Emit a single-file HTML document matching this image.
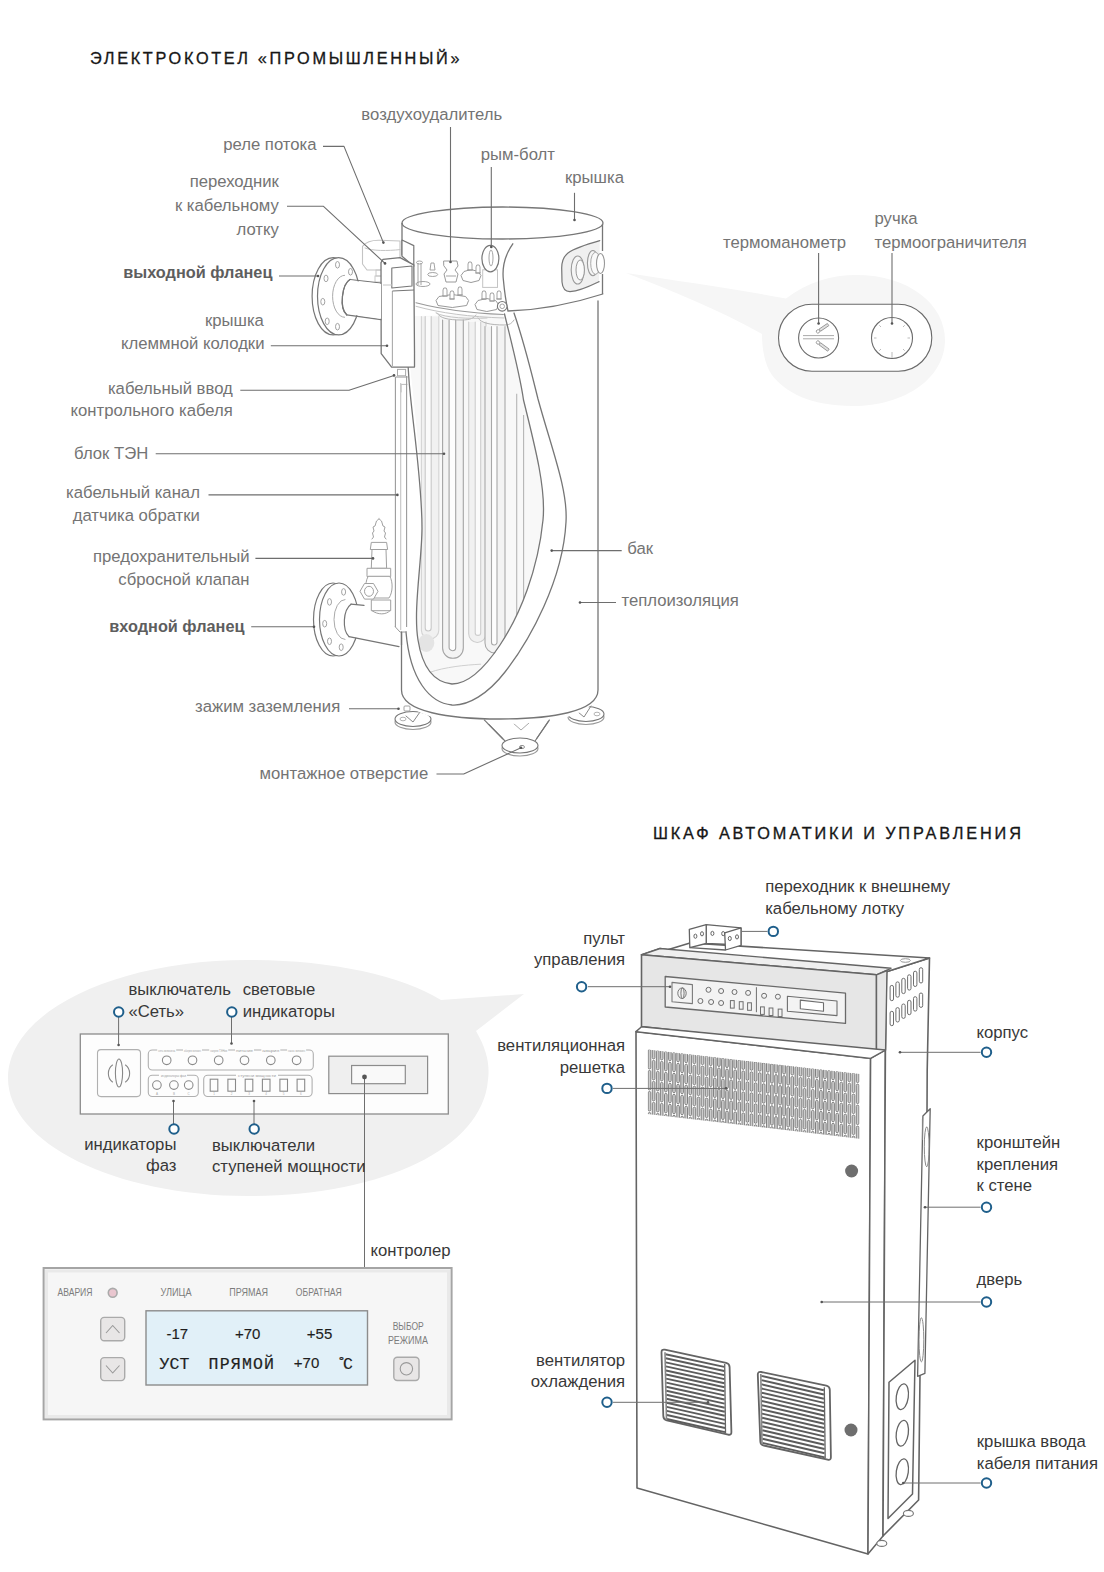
<!DOCTYPE html>
<html><head><meta charset="utf-8"><title>Электрокотел «Промышленный» и шкаф автоматики</title>
<style>
html,body{margin:0;padding:0;background:#fff;}
body{width:1104px;height:1572px;overflow:hidden;}
svg{display:block;}
text{font-family:"Liberation Sans",sans-serif;}
.lt{font-size:16.7px;fill:#747474;}
.lb{font-size:16.7px;fill:#383838;}
.bold{font-weight:bold;font-size:16.3px;fill:#5e5e5e;}
.title{font-size:16.3px;fill:#161616;stroke:#161616;stroke-width:0.3px;}
.sm{font-size:10px;fill:#7c7c7c;}
.lcd1{font-size:15px;fill:#1e1e1e;stroke:#1e1e1e;stroke-width:0.15px;}
.lcd2{font-family:"Liberation Mono",monospace;font-size:16.5px;fill:#1e1e1e;stroke:#1e1e1e;stroke-width:0.2px;}
</style></head>
<body><svg width="1104" height="1572" viewBox="0 0 1104 1572">
<text x="90" y="63.5" class="title" style="letter-spacing:2.66px">ЭЛЕКТРОКОТЕЛ «ПРОМЫШЛЕННЫЙ»</text>
<path d="M626,273 C680,281 740,290 786,298.5 C808,282 832,275 856,275 C910,275 945,305 945,340 C945,378 905,406 853,406 C810,406 785,392 772,375 C765,365 762,350 762,334 C720,310 670,290 626,273 Z" fill="#f6f6f6"/>
<ellipse cx="413" cy="722" rx="18" ry="7.5" stroke="#999" stroke-width="1.1" fill="#fff" />
<ellipse cx="413" cy="719" rx="18" ry="7.5" stroke="#767676" stroke-width="1.1" fill="#fff" />
<path d="M406,716 L413,722 L420,712" stroke="#888" stroke-width="1" fill="none" stroke-linejoin="round" stroke-linecap="round" />
<ellipse cx="403" cy="719" rx="3" ry="1.8" stroke="#aaa" stroke-width="0.9" fill="none" />
<ellipse cx="586" cy="717" rx="18" ry="7.5" stroke="#999" stroke-width="1.1" fill="#fff" />
<ellipse cx="586" cy="714" rx="18" ry="7.5" stroke="#767676" stroke-width="1.1" fill="#fff" />
<path d="M578,712 L584,717 L591,706" stroke="#888" stroke-width="1" fill="none" stroke-linejoin="round" stroke-linecap="round" />
<ellipse cx="597" cy="714" rx="3" ry="1.8" stroke="#aaa" stroke-width="0.9" fill="none" />
<path d="M484,719.6 L508,744 L533,744 L549.6,719.6 C530,722 500,722 484,719.6 Z" fill="#fff"/>
<path d="M484,719.6 L508,744" stroke="#767676" stroke-width="1.1" fill="none" stroke-linejoin="round" stroke-linecap="round" />
<path d="M549.6,719.6 L533,744" stroke="#767676" stroke-width="1.1" fill="none" stroke-linejoin="round" stroke-linecap="round" />
<ellipse cx="520" cy="748.5" rx="18" ry="7.5" stroke="#999" stroke-width="1.1" fill="#fff" />
<ellipse cx="520" cy="745.5" rx="18" ry="7.5" stroke="#767676" stroke-width="1.1" fill="#fff" />
<path d="M513,723 L521,730 L529,723" stroke="#aaa" stroke-width="1" fill="none" stroke-linejoin="round" stroke-linecap="round" />
<ellipse cx="522" cy="747" rx="2.5" ry="1.6" stroke="#888" stroke-width="0.9" fill="none" />
<path d="M401.5,300 L401.5,690 C401.5,716 450,724 500,724 C550,724 598,716 598,690 L598,300 Z" fill="#fff"/>
<defs><clipPath id="tk"><path d="M405,316 C408,360 424,470 422,528 C420,570 413,610 418,640 C424,672 440,684 452,684 C468,684 485,672 500,645 C520,615 538,570 543,520 C546,490 536,450 524,400 C520,375 512,345 503,314 Z"/></clipPath></defs>
<g clip-path="url(#tk)">
<path d="M405,316 C408,360 424,470 422,528 C420,570 413,610 418,640 C424,672 440,684 452,684 C468,684 485,672 500,645 C520,615 538,570 543,520 C546,490 536,450 524,400 C520,375 512,345 503,314 Z" fill="#f8f8f8"/>
<path d="M421.4,316.5 L421.4,630.3 A8.700000000000017,8.700000000000017 0 0 0 438.8,630.3 L438.8,316.5" stroke="#d4d4d4" stroke-width="1.1" fill="#f1f1f1" stroke-linejoin="round" stroke-linecap="round" />
<path d="M425.2,316.5 L425.2,628.0 A3.0,3.0 0 0 0 431.2,628.0 L431.2,316.5" stroke="#c8c8c8" stroke-width="1.1" fill="#fbfbfb" stroke-linejoin="round" stroke-linecap="round" />
<path d="M442.6,320 L442.6,647.9499999999999 A10.349999999999994,10.349999999999994 0 0 0 463.3,647.9499999999999 L463.3,320" stroke="#a3a3a3" stroke-width="1.1" fill="#f3f3f3" stroke-linejoin="round" stroke-linecap="round" />
<path d="M449.1,320 L449.1,647.4000000000001 A3.299999999999983,3.299999999999983 0 0 0 455.7,647.4000000000001 L455.7,320" stroke="#a3a3a3" stroke-width="1.1" fill="#fdfdfd" stroke-linejoin="round" stroke-linecap="round" />
<path d="M468.7,322 L468.7,633.85 A8.650000000000006,8.650000000000006 0 0 0 486,633.85 L486,322" stroke="#cdcdcd" stroke-width="1.1" fill="#f1f1f1" stroke-linejoin="round" stroke-linecap="round" />
<path d="M475.2,322 L475.2,632.65 A2.75,2.75 0 0 0 480.7,632.65 L480.7,322" stroke="#cdcdcd" stroke-width="1.1" fill="#fbfbfb" stroke-linejoin="round" stroke-linecap="round" />
<path d="M485,326.6 L485,643.0 A10.0,10.0 0 0 0 505,643.0 L505,326.6" stroke="#a8a8a8" stroke-width="1.1" fill="#f3f3f3" stroke-linejoin="round" stroke-linecap="round" />
<path d="M491.5,326.6 L491.5,642.25 A2.75,2.75 0 0 0 497,642.25 L497,326.6" stroke="#a8a8a8" stroke-width="1.1" fill="#fdfdfd" stroke-linejoin="round" stroke-linecap="round" />
<line x1="516.7" y1="393.8" x2="516.7" y2="640" stroke="#b5b5b5" stroke-width="1.1" />
<line x1="523.6" y1="415" x2="523.6" y2="640" stroke="#b5b5b5" stroke-width="1.1" />
<ellipse cx="426.3" cy="643" rx="8" ry="9" stroke="none" stroke-width="0" fill="#e4e4e4" />
<path d="M429.6,672.4 C445,667 465,665 480.7,664.2" stroke="#cfcfcf" stroke-width="1" fill="none" stroke-linejoin="round" stroke-linecap="round" />
</g>
<path d="M437,313 C440,318 447,320 462,320 C470,320 474,318 476,315" stroke="#b5b5b5" stroke-width="1" fill="none" stroke-linejoin="round" stroke-linecap="round" />
<path d="M478,318 C481,323 490,325 505,325 C510,325 512,323 514,320" stroke="#b5b5b5" stroke-width="1" fill="none" stroke-linejoin="round" stroke-linecap="round" />
<path d="M401.5,632 L401.5,690 C401.5,712 450,719 500,719 C550,719 598,712 598,690 L598,301" stroke="#767676" stroke-width="1.3" fill="none" stroke-linejoin="round" stroke-linecap="round" />
<rect x="404" y="706" width="6" height="5" rx="1" stroke="#999" stroke-width="0.9" fill="none" />
<line x1="484" y1="719.6" x2="503" y2="739" stroke="#767676" stroke-width="1.1" />
<line x1="549.6" y1="719.6" x2="536.4" y2="739" stroke="#767676" stroke-width="1.1" />
<path d="M514,313 C525,345 532,375 538,399 C552,450 568,490 566,522 C563,580 530,640 505,672 C488,694 468,706 452,705 C430,703 410,680 406,632" stroke="#767676" stroke-width="1.3" fill="none" stroke-linejoin="round" stroke-linecap="round" />
<path d="M504.5,314 C512,345 520,375 523.5,400 C536,450 546,490 543,520 C538,570 520,615 500,645 C482,672 466,684 452,684 C432,682 422,665 418,640 C413,610 422,560 422,528 C422,480 412,420 409,380 C407,350 406,330 406,318" stroke="#767676" stroke-width="1.3" fill="none" stroke-linejoin="round" stroke-linecap="round" />
<ellipse cx="502.5" cy="223" rx="100.5" ry="16" stroke="#777" stroke-width="1.3" fill="#fff"/>
<line x1="402" y1="223" x2="402" y2="255.6" stroke="#767676" stroke-width="1.3" />
<path d="M512.8,243.8 C505,255 502,268 503.4,280 C504.5,292 506,302 508,311 C540,310 575,303 602.8,294 L602.8,239 C575,242 545,243 512.8,243.8 Z" stroke="none" stroke-width="0" fill="#fff" stroke-linejoin="round" stroke-linecap="round" />
<path d="M512.8,243.8 C505,255 502,268 503.4,280 C504.5,292 506,302 508,311 C540,310 575,303 602.8,294" stroke="#767676" stroke-width="1.3" fill="none" stroke-linejoin="round" stroke-linecap="round" />
<path d="M599.8,240.7 C588,244 575,248 568,253 C563,257 561.7,262 561.7,268 L562,282 C562.5,288 565,291.5 570,291.7 C580,291 590,286 599,281.6" stroke="#767676" stroke-width="1.2" fill="#f0f0f0" stroke-linejoin="round" stroke-linecap="round" />
<ellipse cx="577.7" cy="270" rx="6.5" ry="14" stroke="#999" stroke-width="1.1" fill="#f5f5f5" />
<ellipse cx="580.2" cy="270" rx="4.2" ry="10" stroke="#999" stroke-width="1" fill="#fafafa" />
<ellipse cx="592.9" cy="263.1" rx="5.5" ry="12.6" stroke="#999" stroke-width="1.1" fill="#f5f5f5" />
<ellipse cx="595.5" cy="263.3" rx="4.8" ry="11" stroke="#aaa" stroke-width="1" fill="#fafafa" />
<ellipse cx="600.5" cy="263.5" rx="4" ry="10" stroke="#999" stroke-width="1.1" fill="#fff" />
<line x1="602.5" y1="224" x2="602.5" y2="251" stroke="#767676" stroke-width="1.3" />
<line x1="602.5" y1="274" x2="602.5" y2="294" stroke="#767676" stroke-width="1.3" />
<polygon points="402,240 413.8,245.6 413.8,266.2 402,256.2" stroke="#767676" stroke-width="1.2" fill="#fff" stroke-linejoin="round" />
<path d="M416,302.7 C440,309 470,313 503.4,314.5" stroke="#9a9a9a" stroke-width="1.1" fill="none" stroke-linejoin="round" stroke-linecap="round" />
<path d="M416,306.3 C440,313 470,317 504,318" stroke="#c4c4c4" stroke-width="1" fill="none" stroke-linejoin="round" stroke-linecap="round" />
<path d="M436,313 C445,318 470,319 487,318" stroke="#c4c4c4" stroke-width="1" fill="none" stroke-linejoin="round" stroke-linecap="round" />
<polygon points="436,300.5 439,296.5 452.3,294.5 465.6,296.5 468.6,300.5 466.6,305.5 452.3,307.5 438,305.5" stroke="#9a9a9a" stroke-width="1" fill="#fff" stroke-linejoin="round" />
<polygon points="443,296 443,290 443.8,288 446.2,288 447,290 447,296" stroke="#9a9a9a" stroke-width="0.9" fill="#fff" stroke-linejoin="round" />
<line x1="442.2" y1="296" x2="447.8" y2="296" stroke="#9a9a9a" stroke-width="1" />
<polygon points="450,299 450,293 450.8,291 453.2,291 454,293 454,299" stroke="#9a9a9a" stroke-width="0.9" fill="#fff" stroke-linejoin="round" />
<line x1="449.2" y1="299" x2="454.8" y2="299" stroke="#9a9a9a" stroke-width="1" />
<polygon points="458,295 458,289 458.8,287 461.2,287 462,289 462,295" stroke="#9a9a9a" stroke-width="0.9" fill="#fff" stroke-linejoin="round" />
<line x1="457.2" y1="295" x2="462.8" y2="295" stroke="#9a9a9a" stroke-width="1" />
<polygon points="475,304.5 478,300.5 486.8,298.5 495.6,300.5 498.6,304.5 496.6,309.5 486.8,311.5 477,309.5" stroke="#9a9a9a" stroke-width="1" fill="#fff" stroke-linejoin="round" />
<polygon points="482,299 482,293 482.8,291 485.2,291 486,293 486,299" stroke="#9a9a9a" stroke-width="0.9" fill="#fff" stroke-linejoin="round" />
<line x1="481.2" y1="299" x2="486.8" y2="299" stroke="#9a9a9a" stroke-width="1" />
<polygon points="490,301 490,295 490.8,293 493.2,293 494,295 494,301" stroke="#9a9a9a" stroke-width="0.9" fill="#fff" stroke-linejoin="round" />
<line x1="489.2" y1="301" x2="494.8" y2="301" stroke="#9a9a9a" stroke-width="1" />
<polygon points="497,299 497,293 497.8,291 500.2,291 501,293 501,299" stroke="#9a9a9a" stroke-width="0.9" fill="#fff" stroke-linejoin="round" />
<line x1="496.2" y1="299" x2="501.8" y2="299" stroke="#9a9a9a" stroke-width="1" />
<polygon points="461,275.5 464,271.5 471,269.5 478,271.5 481,275.5 479,280.5 471,282.5 463,280.5" stroke="#9a9a9a" stroke-width="1" fill="#fff" stroke-linejoin="round" />
<polygon points="468,270 468,264 468.8,262 471.2,262 472,264 472,270" stroke="#9a9a9a" stroke-width="0.9" fill="#fff" stroke-linejoin="round" />
<line x1="467.2" y1="270" x2="472.8" y2="270" stroke="#9a9a9a" stroke-width="1" />
<polygon points="476,273 476,267 476.8,265 479.2,265 480,267 480,273" stroke="#9a9a9a" stroke-width="0.9" fill="#fff" stroke-linejoin="round" />
<line x1="475.2" y1="273" x2="480.8" y2="273" stroke="#9a9a9a" stroke-width="1" />
<path d="M444,261 L457,261 L458,266 L455,270 L458,274 L456,282 L446,282 L444,274 L447,270 L444,266 Z" stroke="#9a9a9a" stroke-width="1" fill="#fff" stroke-linejoin="round" stroke-linecap="round" />
<line x1="446" y1="276" x2="456" y2="276" stroke="#9a9a9a" stroke-width="0.9" />
<polygon points="431,263 434,263 435,270 430,270" stroke="#9a9a9a" stroke-width="0.9" fill="#fff" stroke-linejoin="round" />
<ellipse cx="432.7" cy="274.5" rx="5" ry="2" stroke="#9a9a9a" stroke-width="0.9" fill="none" />
<line x1="418" y1="263" x2="418" y2="285" stroke="#9a9a9a" stroke-width="0.9" />
<line x1="421" y1="263" x2="421" y2="285" stroke="#9a9a9a" stroke-width="0.9" />
<ellipse cx="419.5" cy="262.5" rx="3" ry="1.5" stroke="#9a9a9a" stroke-width="0.9" fill="none" />
<ellipse cx="423" cy="284" rx="7" ry="2.5" stroke="#9a9a9a" stroke-width="0.9" fill="none" />
<rect x="482.7" y="269.8" width="14.8" height="17.6" rx="0" stroke="#c4c4c4" stroke-width="1" fill="#fff" />
<ellipse cx="490.4" cy="258.6" rx="8.5" ry="13.2" stroke="#767676" stroke-width="1.2" fill="#fff" />
<ellipse cx="491" cy="258" rx="2" ry="8" stroke="#9a9a9a" stroke-width="0.9" fill="none" />
<circle cx="502.2" cy="306.3" r="4.8" stroke="#767676" stroke-width="1.1" fill="#fff"/>
<circle cx="502.2" cy="306.3" r="2.3" stroke="#9a9a9a" stroke-width="0.9" fill="none"/>
<path d="M362.5,246.3 C366,242 372,240 380,240.3 L400,241 L400,270 L367,270 L362.5,264 Z" stroke="#c4c4c4" stroke-width="1.1" fill="#fff" stroke-linejoin="round" stroke-linecap="round" />
<path d="M365,248 C372,251 388,251 400,249.6" stroke="#c4c4c4" stroke-width="1" fill="none" stroke-linejoin="round" stroke-linecap="round" />
<rect x="376" y="270" width="8" height="6" rx="0" stroke="#c4c4c4" stroke-width="0.9" fill="none" />
<rect x="375" y="276" width="10" height="6" rx="0" stroke="#c4c4c4" stroke-width="0.9" fill="none" />
<polygon points="381,262.6 383,259.3 400,257.7 413.8,264.8 414.5,351 414.5,367 391.6,367.2 381.2,353.6" stroke="#767676" stroke-width="1.3" fill="#fff" stroke-linejoin="round" />
<line x1="392.4" y1="291" x2="392.4" y2="366" stroke="#aaa" stroke-width="1.1" />
<polygon points="391.8,268 412,266 412,286 391.8,288" stroke="#767676" stroke-width="1.1" fill="#fff" stroke-linejoin="round" />
<line x1="392.4" y1="291" x2="414" y2="290" stroke="#767676" stroke-width="1.0" />
<rect x="397.5" y="369.4" width="8.1" height="6.4" rx="0" stroke="#aaa" stroke-width="1" fill="#fff" />
<line x1="395.5" y1="377" x2="407.6" y2="377" stroke="#bbb" stroke-width="1.6" />
<path d="M401.1,392 L401.1,384.4 L407,384.4" stroke="#bbb" stroke-width="1" fill="none" stroke-linejoin="round" stroke-linecap="round" />
<line x1="395.4" y1="377" x2="395.4" y2="627" stroke="#9a9a9a" stroke-width="1.1" />
<line x1="400.7" y1="383" x2="400.7" y2="630" stroke="#c4c4c4" stroke-width="1.1" />
<line x1="406.6" y1="376" x2="406.6" y2="627" stroke="#9a9a9a" stroke-width="1.1" />
<path d="M395.4,627 L400,632 L406.6,632" stroke="#9a9a9a" stroke-width="1" fill="none" stroke-linejoin="round" stroke-linecap="round" />
<line x1="401.5" y1="632" x2="401.5" y2="645" stroke="#767676" stroke-width="1.3" />
<ellipse cx="333.2" cy="296.3" rx="21.1" ry="38.6" stroke="#767676" stroke-width="1.2" fill="#fff" />
<ellipse cx="338.6" cy="296.3" rx="21.1" ry="38.6" stroke="#767676" stroke-width="1.2" fill="#fff" />
<path d="M344.6,275.3 A12,21 0 0 0 344.6,317.3" stroke="#aaa" stroke-width="1.0" fill="none" stroke-linejoin="round" stroke-linecap="round" />
<ellipse cx="337.5" cy="264.8" rx="2" ry="3.3" stroke="#999" stroke-width="0.9" fill="none" />
<ellipse cx="350.5" cy="271.8" rx="2" ry="3.3" stroke="#999" stroke-width="0.9" fill="none" />
<ellipse cx="326" cy="278.4" rx="2" ry="3.3" stroke="#999" stroke-width="0.9" fill="none" />
<ellipse cx="322.8" cy="301.7" rx="2" ry="3.3" stroke="#999" stroke-width="0.9" fill="none" />
<ellipse cx="327.2" cy="321.3" rx="2" ry="3.3" stroke="#999" stroke-width="0.9" fill="none" />
<ellipse cx="337.5" cy="326.7" rx="2" ry="3.3" stroke="#999" stroke-width="0.9" fill="none" />
<path d="M350,279.5 L381,283" stroke="#767676" stroke-width="1.2" fill="none" stroke-linejoin="round" stroke-linecap="round" />
<path d="M346.7,314.8 L381,319.7" stroke="#767676" stroke-width="1.2" fill="none" stroke-linejoin="round" stroke-linecap="round" />
<path d="M350,279.5 C342,284 339,308 346.7,314.8" stroke="#767676" stroke-width="1.2" fill="#fff" stroke-linejoin="round" stroke-linecap="round" />
<path d="M350,280.5 L381,284 L381,318.7 L347.5,313.8 C341,307 343,286 350,280.5 Z" fill="#fff"/>
<path d="M350,279.5 C342,284 339,308 346.7,314.8" stroke="#767676" stroke-width="1.2" fill="none" stroke-linejoin="round" stroke-linecap="round" />
<line x1="383" y1="285" x2="392" y2="285" stroke="#c4c4c4" stroke-width="1" />
<ellipse cx="333" cy="619.5" rx="19.5" ry="36.5" stroke="#767676" stroke-width="1.2" fill="#fff" />
<ellipse cx="339" cy="619.5" rx="19.5" ry="36.5" stroke="#767676" stroke-width="1.2" fill="#fff" />
<path d="M345,599.5 A11,20 0 0 0 345,639.5" stroke="#aaa" stroke-width="1.0" fill="none" stroke-linejoin="round" stroke-linecap="round" />
<ellipse cx="343.6" cy="591.9" rx="2" ry="3.3" stroke="#999" stroke-width="0.9" fill="none" />
<ellipse cx="329.5" cy="601.9" rx="2" ry="3.3" stroke="#999" stroke-width="0.9" fill="none" />
<ellipse cx="324.7" cy="623.7" rx="2" ry="3.3" stroke="#999" stroke-width="0.9" fill="none" />
<ellipse cx="329.5" cy="641.3" rx="2" ry="3.3" stroke="#999" stroke-width="0.9" fill="none" />
<ellipse cx="341.2" cy="647.2" rx="2" ry="3.3" stroke="#999" stroke-width="0.9" fill="none" />
<path d="M351,604.5 L372,605.4 L372,612 L398,645 L349,636.6 C343,630 343,610 351,604.5 Z" fill="#fff"/>
<path d="M351,604.2 L364,605.4" stroke="#767676" stroke-width="1.2" fill="none" stroke-linejoin="round" stroke-linecap="round" />
<path d="M349,636.6 L399,646.6" stroke="#767676" stroke-width="1.2" fill="none" stroke-linejoin="round" stroke-linecap="round" />
<path d="M351,604.2 C343,610 342,630 349,636.6" stroke="#767676" stroke-width="1.2" fill="none" stroke-linejoin="round" stroke-linecap="round" />
<path d="M379,518.8 L381.5,521 L383,526 L385,527 L384,531 L385.5,533 L384.5,537 L386,539" stroke="#a0a0a0" stroke-width="1" fill="none" stroke-linejoin="round" stroke-linecap="round" />
<path d="M379,518.8 L376.5,521 L375,526 L373,527 L374,531 L372.5,533 L373.5,537 L372,539" stroke="#a0a0a0" stroke-width="1" fill="none" stroke-linejoin="round" stroke-linecap="round" />
<polygon points="371.3,542.4 386.6,542.4 387.6,549.5 370.3,549.5" stroke="#a0a0a0" stroke-width="1" fill="#fff" stroke-linejoin="round" />
<polygon points="372,549.5 386,549.5 386.6,568.3 371.3,568.3" stroke="#a0a0a0" stroke-width="1" fill="#fff" stroke-linejoin="round" />
<polygon points="367,568.3 390.7,568.3 390.7,576.6 367,576.6" stroke="#a0a0a0" stroke-width="1" fill="#fff" stroke-linejoin="round" />
<path d="M368,576.6 C364,584 366,594 370,598 L389,598 C393,592 393,582 390,576.6 Z" stroke="#a0a0a0" stroke-width="1" fill="#fff" stroke-linejoin="round" stroke-linecap="round" />
<polygon points="360,591.3 364.5,583.5 373.5,583.5 378,591.3 373.5,599.1 364.5,599.1" stroke="#a0a0a0" stroke-width="1" fill="#fff" stroke-linejoin="round" />
<ellipse cx="369" cy="591.3" rx="4.5" ry="5" stroke="#a0a0a0" stroke-width="1" fill="none" />
<polygon points="371.3,600 390.7,600 390.7,610.7 371.3,610.7" stroke="#a0a0a0" stroke-width="1" fill="#fff" stroke-linejoin="round" />
<path d="M372,610.7 C378,615 386,615 390,610.7" stroke="#a0a0a0" stroke-width="1" fill="none" stroke-linejoin="round" stroke-linecap="round" />
<rect x="778.5" y="304.2" width="153.3" height="67.1" rx="33.5" stroke="#6a6a6a" stroke-width="1.1" fill="#fff"/>
<circle cx="818.6" cy="338" r="20" stroke="#6a6a6a" stroke-width="1.1" fill="#fff"/>
<circle cx="892" cy="338" r="20.5" stroke="#6a6a6a" stroke-width="1.1" fill="#fff"/>
<line x1="803" y1="335.6" x2="834" y2="335.6" stroke="#aaa" stroke-width="1" />
<line x1="803" y1="338.8" x2="834" y2="338.8" stroke="#aaa" stroke-width="1" />
<g transform="translate(818,331.4) rotate(-34.1)"><circle cx="0" cy="0" r="1.7" stroke="#999" stroke-width="0.9" fill="none"/><rect x="2.2" y="-1.3" width="10.0" height="2.6" stroke="#999" stroke-width="0.9" fill="#e0e0e0"/></g>
<g transform="translate(818,342.5) rotate(36.3)"><circle cx="0" cy="0" r="1.7" stroke="#999" stroke-width="0.9" fill="none"/><rect x="2.2" y="-1.3" width="10.7" height="2.6" stroke="#999" stroke-width="0.9" fill="#e0e0e0"/></g>
<line x1="907.5" y1="338" x2="910" y2="338" stroke="#bbb" stroke-width="1" />
<line x1="903" y1="349" x2="904.7" y2="350.7" stroke="#bbb" stroke-width="1" />
<line x1="881" y1="349" x2="879.3" y2="350.7" stroke="#bbb" stroke-width="1" />
<line x1="876.5" y1="338" x2="874" y2="338" stroke="#bbb" stroke-width="1" />
<line x1="881" y1="327" x2="879.3" y2="325.3" stroke="#bbb" stroke-width="1" />
<line x1="903" y1="327" x2="904.7" y2="325.3" stroke="#bbb" stroke-width="1" />
<line x1="892" y1="352" x2="892" y2="358" stroke="#bbb" stroke-width="1" />
<polyline points="323,146.4 344,146.4 383.4,242.6" stroke="#6e6e6e" stroke-width="1.1" fill="none" stroke-linejoin="round" />
<polyline points="287,206.3 323.5,206.3 385,263.4" stroke="#6e6e6e" stroke-width="1.1" fill="none" stroke-linejoin="round" />
<line x1="279" y1="276" x2="318" y2="276" stroke="#6e6e6e" stroke-width="1.1" />
<line x1="270.8" y1="345.8" x2="387" y2="345.8" stroke="#6e6e6e" stroke-width="1.1" />
<polyline points="240.3,390.3 349,390.3 394,375.4" stroke="#6e6e6e" stroke-width="1.1" fill="none" stroke-linejoin="round" />
<line x1="155.7" y1="453.8" x2="444" y2="453.8" stroke="#6e6e6e" stroke-width="1.1" />
<line x1="208.5" y1="494.9" x2="397.4" y2="494.9" stroke="#6e6e6e" stroke-width="1.1" />
<line x1="255.4" y1="558.4" x2="373" y2="558.4" stroke="#6e6e6e" stroke-width="1.1" />
<line x1="251.2" y1="626.8" x2="314" y2="626.8" stroke="#6e6e6e" stroke-width="1.1" />
<line x1="349" y1="708.7" x2="398.5" y2="708.7" stroke="#6e6e6e" stroke-width="1.1" />
<polyline points="436.5,774 463.7,774 521,747.8" stroke="#6e6e6e" stroke-width="1.1" fill="none" stroke-linejoin="round" />
<line x1="450.5" y1="127" x2="450.5" y2="262" stroke="#6e6e6e" stroke-width="1.1" />
<line x1="491.3" y1="167" x2="491.3" y2="247" stroke="#6e6e6e" stroke-width="1.1" />
<line x1="574.5" y1="192.8" x2="574.5" y2="220" stroke="#6e6e6e" stroke-width="1.1" />
<line x1="551.7" y1="550.6" x2="621.7" y2="550.6" stroke="#6e6e6e" stroke-width="1.1" />
<line x1="580" y1="602.5" x2="616" y2="602.5" stroke="#6e6e6e" stroke-width="1.1" />
<line x1="818.6" y1="253" x2="818.6" y2="323.5" stroke="#6e6e6e" stroke-width="1.1" />
<line x1="892" y1="253" x2="892" y2="323.5" stroke="#6e6e6e" stroke-width="1.1" />
<circle cx="383.4" cy="242.6" r="1.3" fill="#555"/>
<circle cx="385" cy="263.4" r="1.3" fill="#555"/>
<circle cx="318" cy="276" r="1.3" fill="#555"/>
<circle cx="387" cy="345.8" r="1.3" fill="#555"/>
<circle cx="394" cy="375.4" r="1.3" fill="#555"/>
<circle cx="444" cy="453.8" r="1.3" fill="#555"/>
<circle cx="397.4" cy="494.9" r="1.3" fill="#555"/>
<circle cx="373" cy="558.4" r="1.3" fill="#555"/>
<circle cx="314" cy="626.8" r="1.3" fill="#555"/>
<circle cx="398.5" cy="708.7" r="1.3" fill="#555"/>
<circle cx="521" cy="747.8" r="1.3" fill="#555"/>
<circle cx="450.5" cy="262" r="1.3" fill="#555"/>
<circle cx="491.3" cy="247" r="1.3" fill="#555"/>
<circle cx="574.5" cy="220" r="1.3" fill="#555"/>
<circle cx="551.7" cy="550.6" r="1.3" fill="#555"/>
<circle cx="580" cy="602.5" r="1.3" fill="#555"/>
<circle cx="818.6" cy="323.5" r="1.3" fill="#555"/>
<circle cx="892" cy="323.5" r="1.3" fill="#555"/>
<text x="431.8" y="120" class="lt" text-anchor="middle">воздухоудалитель</text>
<text x="316.5" y="150" class="lt" text-anchor="end">реле потока</text>
<text x="480.8" y="159.7" class="lt" text-anchor="start">рым-болт</text>
<text x="565" y="183.3" class="lt" text-anchor="start">крышка</text>
<text x="278.8" y="187.2" class="lt" text-anchor="end">переходник</text>
<text x="278.8" y="211" class="lt" text-anchor="end">к кабельному</text>
<text x="278.8" y="234.6" class="lt" text-anchor="end">лотку</text>
<text x="272.4" y="278" class="lt bold" text-anchor="end">выходной фланец</text>
<text x="263.9" y="325.9" class="lt" text-anchor="end">крышка</text>
<text x="264.5" y="348.8" class="lt" text-anchor="end">клеммной колодки</text>
<text x="232.8" y="393.7" class="lt" text-anchor="end">кабельный ввод</text>
<text x="232.8" y="416.2" class="lt" text-anchor="end">контрольного кабеля</text>
<text x="148.3" y="458.8" class="lt" text-anchor="end">блок ТЭН</text>
<text x="199.9" y="497.7" class="lt" text-anchor="end">кабельный канал</text>
<text x="199.9" y="521.2" class="lt" text-anchor="end">датчика обратки</text>
<text x="249.6" y="562" class="lt" text-anchor="end">предохранительный</text>
<text x="249.6" y="585.4" class="lt" text-anchor="end">сбросной клапан</text>
<text x="244.5" y="632" class="lt bold" text-anchor="end">входной фланец</text>
<text x="340.2" y="712" class="lt" text-anchor="end">зажим заземления</text>
<text x="428.2" y="778.5" class="lt" text-anchor="end">монтажное отверстие</text>
<text x="627.3" y="553.5" class="lt" text-anchor="start">бак</text>
<text x="621.5" y="605.7" class="lt" text-anchor="start">теплоизоляция</text>
<text x="723" y="247.7" class="lt" text-anchor="start">термоманометр</text>
<text x="874.5" y="224" class="lt" text-anchor="start">ручка</text>
<text x="874.5" y="247.7" class="lt" text-anchor="start">термоограничителя</text>
<text x="653" y="839" class="title" style="letter-spacing:2.85px">ШКАФ АВТОМАТИКИ И УПРАВЛЕНИЯ</text>
<path d="M524,994 L476,1031 C487,1050 490,1065 488,1080 C482,1150 380,1196 248,1196 C115,1196 8,1143 8,1078 C8,1012 115,960 248,960 C330,960 400,975 441,1000 Z" fill="#f0f0f0"/>
<rect x="80.3" y="1034" width="368" height="80" rx="0" stroke="#8c8c8c" stroke-width="1.3" fill="#fdfdfd" />
<rect x="97.5" y="1049.6" width="43" height="47" rx="3.5" stroke="#b0b0b0" stroke-width="1.1" fill="#fdfdfd" />
<ellipse cx="119" cy="1073" rx="3.6" ry="14" stroke="#888" stroke-width="1.1" fill="none" />
<path d="M112.5,1065 C107,1069 107,1078 112.5,1082" stroke="#888" stroke-width="1.1" fill="none" stroke-linejoin="round" stroke-linecap="round" />
<path d="M125.5,1065 C131,1069 131,1078 125.5,1082" stroke="#888" stroke-width="1.1" fill="none" stroke-linejoin="round" stroke-linecap="round" />
<rect x="148.3" y="1050" width="165" height="20" rx="4" stroke="#b0b0b0" stroke-width="1.1" fill="#fdfdfd" />
<rect x="157.2" y="1048.5" width="19" height="3" fill="#fdfdfd"/>
<text x="166.7" y="1051.6" font-size="3.3" fill="#a0a0a0" text-anchor="middle" textLength="17" lengthAdjust="spacingAndGlyphs">сеть включена</text>
<circle cx="166.7" cy="1060.3" r="4.3" stroke="#8a8a8a" stroke-width="1.1" fill="#fdfdfd"/>
<rect x="183.0" y="1048.5" width="19" height="3" fill="#fdfdfd"/>
<text x="192.5" y="1051.6" font-size="3.3" fill="#a0a0a0" text-anchor="middle" textLength="17" lengthAdjust="spacingAndGlyphs">обогрев включен</text>
<circle cx="192.5" cy="1060.3" r="4.3" stroke="#8a8a8a" stroke-width="1.1" fill="#fdfdfd"/>
<rect x="209.2" y="1048.5" width="19" height="3" fill="#fdfdfd"/>
<text x="218.7" y="1051.6" font-size="3.3" fill="#a0a0a0" text-anchor="middle" textLength="17" lengthAdjust="spacingAndGlyphs">нагрев ТЭНов</text>
<circle cx="218.7" cy="1060.3" r="4.3" stroke="#8a8a8a" stroke-width="1.1" fill="#fdfdfd"/>
<rect x="235.0" y="1048.5" width="19" height="3" fill="#fdfdfd"/>
<text x="244.5" y="1051.6" font-size="3.3" fill="#a0a0a0" text-anchor="middle" textLength="17" lengthAdjust="spacingAndGlyphs">питание</text>
<circle cx="244.5" cy="1060.3" r="4.3" stroke="#8a8a8a" stroke-width="1.1" fill="#fdfdfd"/>
<rect x="261.3" y="1048.5" width="19" height="3" fill="#fdfdfd"/>
<text x="270.8" y="1051.6" font-size="3.3" fill="#a0a0a0" text-anchor="middle" textLength="17" lengthAdjust="spacingAndGlyphs">авария</text>
<circle cx="270.8" cy="1060.3" r="4.3" stroke="#8a8a8a" stroke-width="1.1" fill="#fdfdfd"/>
<rect x="287.1" y="1048.5" width="19" height="3" fill="#fdfdfd"/>
<text x="296.6" y="1051.6" font-size="3.3" fill="#a0a0a0" text-anchor="middle" textLength="17" lengthAdjust="spacingAndGlyphs">насос включен</text>
<circle cx="296.6" cy="1060.3" r="4.3" stroke="#8a8a8a" stroke-width="1.1" fill="#fdfdfd"/>
<rect x="148.3" y="1075.3" width="50" height="21.2" rx="4" stroke="#b0b0b0" stroke-width="1.1" fill="#fdfdfd" />
<rect x="159" y="1073.8" width="28" height="3" fill="#fdfdfd"/>
<text x="173.5" y="1077" font-size="3.3" fill="#a0a0a0" text-anchor="middle" textLength="25" lengthAdjust="spacingAndGlyphs">индикаторы фаз</text>
<circle cx="156.9" cy="1085.1" r="4.3" stroke="#8a8a8a" stroke-width="1.1" fill="#fdfdfd"/>
<text x="156.9" y="1095.3" font-size="3" fill="#aaa" text-anchor="middle">A</text>
<circle cx="173.9" cy="1085.1" r="4.3" stroke="#8a8a8a" stroke-width="1.1" fill="#fdfdfd"/>
<text x="173.9" y="1095.3" font-size="3" fill="#aaa" text-anchor="middle">B</text>
<circle cx="188.7" cy="1085.1" r="4.3" stroke="#8a8a8a" stroke-width="1.1" fill="#fdfdfd"/>
<text x="188.7" y="1095.3" font-size="3" fill="#aaa" text-anchor="middle">C</text>
<rect x="203.7" y="1075.3" width="108.4" height="21.2" rx="4" stroke="#b0b0b0" stroke-width="1.1" fill="#fdfdfd" />
<rect x="236" y="1073.8" width="42" height="3" fill="#fdfdfd"/>
<text x="257" y="1077" font-size="3.3" fill="#a0a0a0" text-anchor="middle" textLength="38" lengthAdjust="spacingAndGlyphs">ступени мощности</text>
<rect x="210.2" y="1079.2" width="7.6" height="12" rx="0" stroke="#8a8a8a" stroke-width="1.1" fill="#fdfdfd" />
<text x="214" y="1095.3" font-size="3" fill="#aaa" text-anchor="middle">1</text>
<rect x="227.9" y="1079.2" width="7.6" height="12" rx="0" stroke="#8a8a8a" stroke-width="1.1" fill="#fdfdfd" />
<text x="231.7" y="1095.3" font-size="3" fill="#aaa" text-anchor="middle">2</text>
<rect x="245.2" y="1079.2" width="7.6" height="12" rx="0" stroke="#8a8a8a" stroke-width="1.1" fill="#fdfdfd" />
<text x="249" y="1095.3" font-size="3" fill="#aaa" text-anchor="middle">3</text>
<rect x="262.4" y="1079.2" width="7.6" height="12" rx="0" stroke="#8a8a8a" stroke-width="1.1" fill="#fdfdfd" />
<text x="266.2" y="1095.3" font-size="3" fill="#aaa" text-anchor="middle">4</text>
<rect x="279.9" y="1079.2" width="7.6" height="12" rx="0" stroke="#8a8a8a" stroke-width="1.1" fill="#fdfdfd" />
<text x="283.7" y="1095.3" font-size="3" fill="#aaa" text-anchor="middle">5</text>
<rect x="297.1" y="1079.2" width="7.6" height="12" rx="0" stroke="#8a8a8a" stroke-width="1.1" fill="#fdfdfd" />
<text x="300.9" y="1095.3" font-size="3" fill="#aaa" text-anchor="middle">6</text>
<rect x="328.8" y="1056.2" width="98.8" height="37.4" rx="0" stroke="#8c8c8c" stroke-width="1.2" fill="#efefef" />
<rect x="351.6" y="1065.5" width="53.7" height="18.2" rx="0" stroke="#8c8c8c" stroke-width="1.2" fill="#f9f9f9" />
<line x1="118.6" y1="1017" x2="118.6" y2="1045" stroke="#6e6e6e" stroke-width="1" />
<line x1="231.5" y1="1017" x2="231.5" y2="1043.5" stroke="#6e6e6e" stroke-width="1" />
<line x1="173.5" y1="1101" x2="173.5" y2="1124" stroke="#6e6e6e" stroke-width="1" />
<line x1="254" y1="1101" x2="254" y2="1124" stroke="#6e6e6e" stroke-width="1" />
<line x1="364.5" y1="1077" x2="364.5" y2="1279" stroke="#6e6e6e" stroke-width="1" />
<circle cx="364.5" cy="1077" r="2.4" stroke="none" stroke-width="0" fill="#555"/>
<circle cx="364.5" cy="1279" r="1.3" fill="#555"/>
<circle cx="118.6" cy="1045" r="1.3" fill="#555"/>
<circle cx="231.5" cy="1043.5" r="1.3" fill="#555"/>
<circle cx="173.5" cy="1101" r="1.3" fill="#555"/>
<circle cx="254" cy="1101" r="1.3" fill="#555"/>
<circle cx="118.7" cy="1012" r="4.7" stroke="#1f5f8b" stroke-width="2" fill="#fff"/>
<circle cx="231.8" cy="1012" r="4.7" stroke="#1f5f8b" stroke-width="2" fill="#fff"/>
<circle cx="174" cy="1129" r="4.7" stroke="#1f5f8b" stroke-width="2" fill="#fff"/>
<circle cx="254.2" cy="1129" r="4.7" stroke="#1f5f8b" stroke-width="2" fill="#fff"/>
<text x="128.4" y="994.8" class="lb" text-anchor="start">выключатель</text>
<text x="128.4" y="1016.7" class="lb" text-anchor="start">«Сеть»</text>
<text x="242.7" y="994.8" class="lb" text-anchor="start">световые</text>
<text x="242.7" y="1016.5" class="lb" text-anchor="start">индикаторы</text>
<text x="176.4" y="1150" class="lb" text-anchor="end">индикаторы</text>
<text x="176.4" y="1171" class="lb" text-anchor="end">фаз</text>
<text x="212" y="1150.5" class="lb" text-anchor="start">выключатели</text>
<text x="212" y="1171.9" class="lb" text-anchor="start">ступеней мощности</text>
<text x="370.5" y="1256" class="lb" text-anchor="start">контролер</text>
<rect x="43.6" y="1268" width="408" height="151.4" rx="0" stroke="#a5a5a5" stroke-width="2" fill="#f6f6f6" />
<rect x="46.5" y="1271" width="402" height="145.5" rx="0" stroke="#e9e9e9" stroke-width="3" fill="none" />
<text x="57.5" y="1296.2" class="sm" textLength="35" lengthAdjust="spacingAndGlyphs">АВАРИЯ</text>
<text x="160.5" y="1296" class="sm" textLength="31" lengthAdjust="spacingAndGlyphs">УЛИЦА</text>
<text x="229.3" y="1296" class="sm" textLength="38.7" lengthAdjust="spacingAndGlyphs">ПРЯМАЯ</text>
<text x="295.8" y="1296" class="sm" textLength="46" lengthAdjust="spacingAndGlyphs">ОБРАТНАЯ</text>
<text x="392.7" y="1330" class="sm" textLength="31" lengthAdjust="spacingAndGlyphs">ВЫБОР</text>
<text x="387.9" y="1343.6" class="sm" textLength="40" lengthAdjust="spacingAndGlyphs">РЕЖИМА</text>
<circle cx="112.7" cy="1292.8" r="4.4" stroke="#aaa" stroke-width="1.6" fill="#e9c6cf"/>
<rect x="100.7" y="1317.4" width="24" height="23.3" rx="3.5" stroke="#aaa" stroke-width="1.4" fill="#e8e6e6" />
<polyline points="106,1333 112.7,1325.5 119.5,1333" stroke="#999" stroke-width="1.1" fill="none" stroke-linejoin="round" />
<rect x="100.7" y="1357.6" width="24" height="23" rx="3.5" stroke="#aaa" stroke-width="1.4" fill="#e8e6e6" />
<polyline points="106,1365.5 112.7,1373 119.5,1365.5" stroke="#999" stroke-width="1.1" fill="none" stroke-linejoin="round" />
<rect x="146" y="1310.8" width="221.5" height="74.2" rx="0" stroke="#8c8c8c" stroke-width="1.4" fill="#e1f0f8" />
<rect x="393.8" y="1357.2" width="25.2" height="23.3" rx="3.5" stroke="#aaa" stroke-width="1.4" fill="#e8e6e6" />
<circle cx="406.4" cy="1368.8" r="6.2" stroke="#999" stroke-width="1.1" fill="none"/>
<text x="166.5" y="1338.7" class="lcd1">-17</text>
<text x="235" y="1338.7" class="lcd1">+70</text>
<text x="306.8" y="1338.6" class="lcd1">+55</text>
<text x="159.5" y="1369" class="lcd2" textLength="30" lengthAdjust="spacing">УСТ</text>
<text x="208.6" y="1369" class="lcd2" textLength="65.4" lengthAdjust="spacing">ПРЯМОЙ</text>
<text x="293.8" y="1367.5" class="lcd1">+70</text>
<text x="336.5" y="1369" class="lcd2">˚</text>
<text x="343" y="1369" class="lcd2">C</text>
<polygon points="636,1031.6 870.6,1058.4 868,1554 637,1488" stroke="#646464" stroke-width="1.6" fill="#fff" stroke-linejoin="round" />
<polygon points="870.6,1058.4 885.4,1050 883,1536 868,1554" stroke="#646464" stroke-width="1.5" fill="#fff" stroke-linejoin="round" />
<polygon points="886.5,971.8 929.5,958 927.2,1070 926.4,1240 920,1375 918.6,1500 883,1536 885.4,1050" stroke="#646464" stroke-width="1.6" fill="#fff" stroke-linejoin="round" />
<polygon points="641.5,954.8 660,948.5 667.7,949.7 690,943 929.5,958 886.5,971.8 876.5,974.8" stroke="#646464" stroke-width="1.6" fill="#fff" stroke-linejoin="round" />
<polygon points="641.5,954.8 660,948.5 891,968.3 876.5,974.8" stroke="#646464" stroke-width="1.4" fill="#efefef" stroke-linejoin="round" />
<polygon points="641.5,954.8 876.5,974.8 876.5,1052.5 641.5,1026.6" stroke="#646464" stroke-width="1.6" fill="#e6e6e6" stroke-linejoin="round" />
<polygon points="876.5,974.8 887,970.5 885.6,1050 876.5,1052.5" stroke="#646464" stroke-width="1.4" fill="#e6e6e6" stroke-linejoin="round" />
<polygon points="636,1031.6 641.5,1026.8 885.4,1050 870.6,1058.4" stroke="#646464" stroke-width="1.4" fill="#fff" stroke-linejoin="round" />
<ellipse cx="905.4" cy="960.5" rx="5" ry="1.8" stroke="#999" stroke-width="1" fill="none" />
<polygon points="665.2,976.5 845.5,993.2 845.5,1023.4 665.2,1007" stroke="#6a6a6a" stroke-width="1.3" fill="#f3f3f3" stroke-linejoin="round" />
<polygon points="672,982.4 692.4,984.6 692.4,1003.6 672,1001.8" stroke="#7a7a7a" stroke-width="1.1" fill="#f3f3f3" stroke-linejoin="round" />
<ellipse cx="682" cy="993.2" rx="4.2" ry="5.2" stroke="#777" stroke-width="1" fill="none" />
<ellipse cx="682.5" cy="993.2" rx="1.6" ry="5.6" stroke="#777" stroke-width="1" fill="none" />
<circle cx="708.5" cy="989.8" r="2.5" stroke="#6e6e6e" stroke-width="1" fill="none"/>
<circle cx="721.1" cy="991" r="2.5" stroke="#6e6e6e" stroke-width="1" fill="none"/>
<circle cx="734.5" cy="992" r="2.5" stroke="#6e6e6e" stroke-width="1" fill="none"/>
<circle cx="748.1" cy="992.9" r="2.5" stroke="#6e6e6e" stroke-width="1" fill="none"/>
<circle cx="764.1" cy="995.8" r="2.5" stroke="#6e6e6e" stroke-width="1" fill="none"/>
<circle cx="777.9" cy="996.7" r="2.5" stroke="#6e6e6e" stroke-width="1" fill="none"/>
<circle cx="700.4" cy="1001" r="2.5" stroke="#6e6e6e" stroke-width="1" fill="none"/>
<circle cx="711.1" cy="1002" r="2.5" stroke="#6e6e6e" stroke-width="1" fill="none"/>
<circle cx="721.1" cy="1003" r="2.5" stroke="#6e6e6e" stroke-width="1" fill="none"/>
<rect x="730.4" y="1000.6" width="3.8" height="7.5" rx="0" stroke="#6e6e6e" stroke-width="1" fill="none" />
<rect x="739.3" y="1001.7" width="3.8" height="7.5" rx="0" stroke="#6e6e6e" stroke-width="1" fill="none" />
<rect x="747.6" y="1002.8" width="3.8" height="7.5" rx="0" stroke="#6e6e6e" stroke-width="1" fill="none" />
<rect x="760.5" y="1006.9" width="3.8" height="7.5" rx="0" stroke="#6e6e6e" stroke-width="1" fill="none" />
<rect x="769.1" y="1008" width="3.8" height="7.5" rx="0" stroke="#6e6e6e" stroke-width="1" fill="none" />
<rect x="778.2" y="1009.1" width="3.8" height="7.5" rx="0" stroke="#6e6e6e" stroke-width="1" fill="none" />
<line x1="756.4" y1="987.2" x2="756.4" y2="1012.2" stroke="#6e6e6e" stroke-width="1" />
<polygon points="787.4,996.2 837,1001 837,1015.6 787.4,1011.3" stroke="#6e6e6e" stroke-width="1.1" fill="#f3f3f3" stroke-linejoin="round" />
<polygon points="800.3,1000.1 823.5,1002.7 823.5,1011.3 800.3,1008.7" stroke="#6e6e6e" stroke-width="1.1" fill="#fff" stroke-linejoin="round" />
<rect x="890.1" y="985.4" width="3.4" height="15.3" rx="1.7" stroke="#6e6e6e" stroke-width="1" fill="none" />
<rect x="890.1" y="1011.3" width="3.4" height="14.4" rx="1.7" stroke="#6e6e6e" stroke-width="1" fill="none" />
<rect x="895.9" y="981.9" width="3.4" height="15.3" rx="1.7" stroke="#6e6e6e" stroke-width="1" fill="none" />
<rect x="895.9" y="1007.6" width="3.4" height="14.4" rx="1.7" stroke="#6e6e6e" stroke-width="1" fill="none" />
<rect x="901.8" y="978.3" width="3.4" height="15.3" rx="1.7" stroke="#6e6e6e" stroke-width="1" fill="none" />
<rect x="901.8" y="1004" width="3.4" height="14.4" rx="1.7" stroke="#6e6e6e" stroke-width="1" fill="none" />
<rect x="907.6" y="974.8" width="3.4" height="15.3" rx="1.7" stroke="#6e6e6e" stroke-width="1" fill="none" />
<rect x="907.6" y="1000.3" width="3.4" height="14.4" rx="1.7" stroke="#6e6e6e" stroke-width="1" fill="none" />
<rect x="913.5" y="971.2" width="3.4" height="15.3" rx="1.7" stroke="#6e6e6e" stroke-width="1" fill="none" />
<rect x="913.5" y="996.7" width="3.4" height="14.4" rx="1.7" stroke="#6e6e6e" stroke-width="1" fill="none" />
<rect x="919.3" y="967.7" width="3.4" height="15.3" rx="1.7" stroke="#6e6e6e" stroke-width="1" fill="none" />
<rect x="919.3" y="993" width="3.4" height="14.4" rx="1.7" stroke="#6e6e6e" stroke-width="1" fill="none" />
<polygon points="706.2,924.6 741,927.9 741,945 706.2,943.5" stroke="#646464" stroke-width="1.3" fill="#fff" stroke-linejoin="round" />
<polygon points="689.3,929.3 706.2,924.6 706.2,943.5 689.8,947.7" stroke="#646464" stroke-width="1.3" fill="#fff" stroke-linejoin="round" />
<polygon points="724.7,932.8 741,927.9 741,945.4 725.5,950" stroke="#646464" stroke-width="1.3" fill="#fff" stroke-linejoin="round" />
<line x1="689.8" y1="947.7" x2="725.5" y2="950" stroke="#646464" stroke-width="1.3" />
<ellipse cx="695.4" cy="936.2" rx="1.5" ry="2.1" stroke="#646464" stroke-width="1" fill="none" />
<ellipse cx="702" cy="933.8" rx="1.5" ry="2.1" stroke="#646464" stroke-width="1" fill="none" />
<ellipse cx="712.4" cy="933.4" rx="1.5" ry="2.1" stroke="#646464" stroke-width="1" fill="none" />
<ellipse cx="723.2" cy="933.6" rx="1.5" ry="2.1" stroke="#646464" stroke-width="1" fill="none" />
<ellipse cx="729.8" cy="938.5" rx="1.5" ry="2.1" stroke="#646464" stroke-width="1" fill="none" />
<ellipse cx="737" cy="936.9" rx="1.5" ry="2.1" stroke="#646464" stroke-width="1" fill="none" />
<defs><clipPath id="gc"><polygon points="647.7,1049.4 859.6,1074 859.6,1138.7 647.7,1114"/></clipPath></defs>
<g clip-path="url(#gc)" stroke="#7c7c7c" stroke-width="0.95" fill="#cdcdcd">
<rect x="648.2" y="1028.5" width="2.6" height="19.5" rx="1.3"/>
<rect x="648.2" y="1049.5" width="2.6" height="19.5" rx="1.3"/>
<rect x="648.2" y="1070.5" width="2.6" height="19.5" rx="1.3"/>
<rect x="648.2" y="1091.5" width="2.6" height="19.5" rx="1.3"/>
<rect x="648.2" y="1112.5" width="2.6" height="19.5" rx="1.3"/>
<rect x="652.3" y="1039.4" width="2.6" height="19.5" rx="1.3"/>
<rect x="652.3" y="1060.4" width="2.6" height="19.5" rx="1.3"/>
<rect x="652.3" y="1081.4" width="2.6" height="19.5" rx="1.3"/>
<rect x="652.3" y="1102.4" width="2.6" height="19.5" rx="1.3"/>
<rect x="656.4" y="1029.4" width="2.6" height="19.5" rx="1.3"/>
<rect x="656.4" y="1050.4" width="2.6" height="19.5" rx="1.3"/>
<rect x="656.4" y="1071.4" width="2.6" height="19.5" rx="1.3"/>
<rect x="656.4" y="1092.4" width="2.6" height="19.5" rx="1.3"/>
<rect x="656.4" y="1113.4" width="2.6" height="19.5" rx="1.3"/>
<rect x="660.4" y="1040.4" width="2.6" height="19.5" rx="1.3"/>
<rect x="660.4" y="1061.4" width="2.6" height="19.5" rx="1.3"/>
<rect x="660.4" y="1082.4" width="2.6" height="19.5" rx="1.3"/>
<rect x="660.4" y="1103.4" width="2.6" height="19.5" rx="1.3"/>
<rect x="664.5" y="1030.4" width="2.6" height="19.5" rx="1.3"/>
<rect x="664.5" y="1051.4" width="2.6" height="19.5" rx="1.3"/>
<rect x="664.5" y="1072.4" width="2.6" height="19.5" rx="1.3"/>
<rect x="664.5" y="1093.4" width="2.6" height="19.5" rx="1.3"/>
<rect x="664.5" y="1114.4" width="2.6" height="19.5" rx="1.3"/>
<rect x="668.6" y="1041.3" width="2.6" height="19.5" rx="1.3"/>
<rect x="668.6" y="1062.3" width="2.6" height="19.5" rx="1.3"/>
<rect x="668.6" y="1083.3" width="2.6" height="19.5" rx="1.3"/>
<rect x="668.6" y="1104.3" width="2.6" height="19.5" rx="1.3"/>
<rect x="672.7" y="1031.3" width="2.6" height="19.5" rx="1.3"/>
<rect x="672.7" y="1052.3" width="2.6" height="19.5" rx="1.3"/>
<rect x="672.7" y="1073.3" width="2.6" height="19.5" rx="1.3"/>
<rect x="672.7" y="1094.3" width="2.6" height="19.5" rx="1.3"/>
<rect x="672.7" y="1115.3" width="2.6" height="19.5" rx="1.3"/>
<rect x="676.8" y="1042.3" width="2.6" height="19.5" rx="1.3"/>
<rect x="676.8" y="1063.3" width="2.6" height="19.5" rx="1.3"/>
<rect x="676.8" y="1084.3" width="2.6" height="19.5" rx="1.3"/>
<rect x="676.8" y="1105.3" width="2.6" height="19.5" rx="1.3"/>
<rect x="680.8" y="1032.2" width="2.6" height="19.5" rx="1.3"/>
<rect x="680.8" y="1053.2" width="2.6" height="19.5" rx="1.3"/>
<rect x="680.8" y="1074.2" width="2.6" height="19.5" rx="1.3"/>
<rect x="680.8" y="1095.2" width="2.6" height="19.5" rx="1.3"/>
<rect x="680.8" y="1116.2" width="2.6" height="19.5" rx="1.3"/>
<rect x="684.9" y="1043.2" width="2.6" height="19.5" rx="1.3"/>
<rect x="684.9" y="1064.2" width="2.6" height="19.5" rx="1.3"/>
<rect x="684.9" y="1085.2" width="2.6" height="19.5" rx="1.3"/>
<rect x="684.9" y="1106.2" width="2.6" height="19.5" rx="1.3"/>
<rect x="689.0" y="1033.2" width="2.6" height="19.5" rx="1.3"/>
<rect x="689.0" y="1054.2" width="2.6" height="19.5" rx="1.3"/>
<rect x="689.0" y="1075.2" width="2.6" height="19.5" rx="1.3"/>
<rect x="689.0" y="1096.2" width="2.6" height="19.5" rx="1.3"/>
<rect x="689.0" y="1117.2" width="2.6" height="19.5" rx="1.3"/>
<rect x="693.1" y="1044.2" width="2.6" height="19.5" rx="1.3"/>
<rect x="693.1" y="1065.2" width="2.6" height="19.5" rx="1.3"/>
<rect x="693.1" y="1086.2" width="2.6" height="19.5" rx="1.3"/>
<rect x="693.1" y="1107.2" width="2.6" height="19.5" rx="1.3"/>
<rect x="697.2" y="1034.1" width="2.6" height="19.5" rx="1.3"/>
<rect x="697.2" y="1055.1" width="2.6" height="19.5" rx="1.3"/>
<rect x="697.2" y="1076.1" width="2.6" height="19.5" rx="1.3"/>
<rect x="697.2" y="1097.1" width="2.6" height="19.5" rx="1.3"/>
<rect x="697.2" y="1118.1" width="2.6" height="19.5" rx="1.3"/>
<rect x="701.2" y="1045.1" width="2.6" height="19.5" rx="1.3"/>
<rect x="701.2" y="1066.1" width="2.6" height="19.5" rx="1.3"/>
<rect x="701.2" y="1087.1" width="2.6" height="19.5" rx="1.3"/>
<rect x="701.2" y="1108.1" width="2.6" height="19.5" rx="1.3"/>
<rect x="705.3" y="1035.1" width="2.6" height="19.5" rx="1.3"/>
<rect x="705.3" y="1056.1" width="2.6" height="19.5" rx="1.3"/>
<rect x="705.3" y="1077.1" width="2.6" height="19.5" rx="1.3"/>
<rect x="705.3" y="1098.1" width="2.6" height="19.5" rx="1.3"/>
<rect x="705.3" y="1119.1" width="2.6" height="19.5" rx="1.3"/>
<rect x="709.4" y="1046.1" width="2.6" height="19.5" rx="1.3"/>
<rect x="709.4" y="1067.1" width="2.6" height="19.5" rx="1.3"/>
<rect x="709.4" y="1088.1" width="2.6" height="19.5" rx="1.3"/>
<rect x="709.4" y="1109.1" width="2.6" height="19.5" rx="1.3"/>
<rect x="713.5" y="1036.0" width="2.6" height="19.5" rx="1.3"/>
<rect x="713.5" y="1057.0" width="2.6" height="19.5" rx="1.3"/>
<rect x="713.5" y="1078.0" width="2.6" height="19.5" rx="1.3"/>
<rect x="713.5" y="1099.0" width="2.6" height="19.5" rx="1.3"/>
<rect x="713.5" y="1120.0" width="2.6" height="19.5" rx="1.3"/>
<rect x="717.6" y="1047.0" width="2.6" height="19.5" rx="1.3"/>
<rect x="717.6" y="1068.0" width="2.6" height="19.5" rx="1.3"/>
<rect x="717.6" y="1089.0" width="2.6" height="19.5" rx="1.3"/>
<rect x="717.6" y="1110.0" width="2.6" height="19.5" rx="1.3"/>
<rect x="721.6" y="1037.0" width="2.6" height="19.5" rx="1.3"/>
<rect x="721.6" y="1058.0" width="2.6" height="19.5" rx="1.3"/>
<rect x="721.6" y="1079.0" width="2.6" height="19.5" rx="1.3"/>
<rect x="721.6" y="1100.0" width="2.6" height="19.5" rx="1.3"/>
<rect x="721.6" y="1121.0" width="2.6" height="19.5" rx="1.3"/>
<rect x="725.7" y="1048.0" width="2.6" height="19.5" rx="1.3"/>
<rect x="725.7" y="1069.0" width="2.6" height="19.5" rx="1.3"/>
<rect x="725.7" y="1090.0" width="2.6" height="19.5" rx="1.3"/>
<rect x="725.7" y="1111.0" width="2.6" height="19.5" rx="1.3"/>
<rect x="729.8" y="1037.9" width="2.6" height="19.5" rx="1.3"/>
<rect x="729.8" y="1058.9" width="2.6" height="19.5" rx="1.3"/>
<rect x="729.8" y="1079.9" width="2.6" height="19.5" rx="1.3"/>
<rect x="729.8" y="1100.9" width="2.6" height="19.5" rx="1.3"/>
<rect x="729.8" y="1121.9" width="2.6" height="19.5" rx="1.3"/>
<rect x="733.9" y="1048.9" width="2.6" height="19.5" rx="1.3"/>
<rect x="733.9" y="1069.9" width="2.6" height="19.5" rx="1.3"/>
<rect x="733.9" y="1090.9" width="2.6" height="19.5" rx="1.3"/>
<rect x="733.9" y="1111.9" width="2.6" height="19.5" rx="1.3"/>
<rect x="738.0" y="1038.9" width="2.6" height="19.5" rx="1.3"/>
<rect x="738.0" y="1059.9" width="2.6" height="19.5" rx="1.3"/>
<rect x="738.0" y="1080.9" width="2.6" height="19.5" rx="1.3"/>
<rect x="738.0" y="1101.9" width="2.6" height="19.5" rx="1.3"/>
<rect x="738.0" y="1122.9" width="2.6" height="19.5" rx="1.3"/>
<rect x="742.0" y="1049.9" width="2.6" height="19.5" rx="1.3"/>
<rect x="742.0" y="1070.9" width="2.6" height="19.5" rx="1.3"/>
<rect x="742.0" y="1091.9" width="2.6" height="19.5" rx="1.3"/>
<rect x="742.0" y="1112.9" width="2.6" height="19.5" rx="1.3"/>
<rect x="746.1" y="1039.8" width="2.6" height="19.5" rx="1.3"/>
<rect x="746.1" y="1060.8" width="2.6" height="19.5" rx="1.3"/>
<rect x="746.1" y="1081.8" width="2.6" height="19.5" rx="1.3"/>
<rect x="746.1" y="1102.8" width="2.6" height="19.5" rx="1.3"/>
<rect x="746.1" y="1123.8" width="2.6" height="19.5" rx="1.3"/>
<rect x="750.2" y="1050.8" width="2.6" height="19.5" rx="1.3"/>
<rect x="750.2" y="1071.8" width="2.6" height="19.5" rx="1.3"/>
<rect x="750.2" y="1092.8" width="2.6" height="19.5" rx="1.3"/>
<rect x="750.2" y="1113.8" width="2.6" height="19.5" rx="1.3"/>
<rect x="754.3" y="1040.8" width="2.6" height="19.5" rx="1.3"/>
<rect x="754.3" y="1061.8" width="2.6" height="19.5" rx="1.3"/>
<rect x="754.3" y="1082.8" width="2.6" height="19.5" rx="1.3"/>
<rect x="754.3" y="1103.8" width="2.6" height="19.5" rx="1.3"/>
<rect x="754.3" y="1124.8" width="2.6" height="19.5" rx="1.3"/>
<rect x="758.4" y="1051.7" width="2.6" height="19.5" rx="1.3"/>
<rect x="758.4" y="1072.7" width="2.6" height="19.5" rx="1.3"/>
<rect x="758.4" y="1093.7" width="2.6" height="19.5" rx="1.3"/>
<rect x="758.4" y="1114.7" width="2.6" height="19.5" rx="1.3"/>
<rect x="762.4" y="1041.7" width="2.6" height="19.5" rx="1.3"/>
<rect x="762.4" y="1062.7" width="2.6" height="19.5" rx="1.3"/>
<rect x="762.4" y="1083.7" width="2.6" height="19.5" rx="1.3"/>
<rect x="762.4" y="1104.7" width="2.6" height="19.5" rx="1.3"/>
<rect x="762.4" y="1125.7" width="2.6" height="19.5" rx="1.3"/>
<rect x="766.5" y="1052.7" width="2.6" height="19.5" rx="1.3"/>
<rect x="766.5" y="1073.7" width="2.6" height="19.5" rx="1.3"/>
<rect x="766.5" y="1094.7" width="2.6" height="19.5" rx="1.3"/>
<rect x="766.5" y="1115.7" width="2.6" height="19.5" rx="1.3"/>
<rect x="770.6" y="1042.7" width="2.6" height="19.5" rx="1.3"/>
<rect x="770.6" y="1063.7" width="2.6" height="19.5" rx="1.3"/>
<rect x="770.6" y="1084.7" width="2.6" height="19.5" rx="1.3"/>
<rect x="770.6" y="1105.7" width="2.6" height="19.5" rx="1.3"/>
<rect x="770.6" y="1126.7" width="2.6" height="19.5" rx="1.3"/>
<rect x="774.7" y="1053.6" width="2.6" height="19.5" rx="1.3"/>
<rect x="774.7" y="1074.6" width="2.6" height="19.5" rx="1.3"/>
<rect x="774.7" y="1095.6" width="2.6" height="19.5" rx="1.3"/>
<rect x="774.7" y="1116.6" width="2.6" height="19.5" rx="1.3"/>
<rect x="778.8" y="1043.6" width="2.6" height="19.5" rx="1.3"/>
<rect x="778.8" y="1064.6" width="2.6" height="19.5" rx="1.3"/>
<rect x="778.8" y="1085.6" width="2.6" height="19.5" rx="1.3"/>
<rect x="778.8" y="1106.6" width="2.6" height="19.5" rx="1.3"/>
<rect x="778.8" y="1127.6" width="2.6" height="19.5" rx="1.3"/>
<rect x="782.8" y="1054.6" width="2.6" height="19.5" rx="1.3"/>
<rect x="782.8" y="1075.6" width="2.6" height="19.5" rx="1.3"/>
<rect x="782.8" y="1096.6" width="2.6" height="19.5" rx="1.3"/>
<rect x="782.8" y="1117.6" width="2.6" height="19.5" rx="1.3"/>
<rect x="786.9" y="1044.6" width="2.6" height="19.5" rx="1.3"/>
<rect x="786.9" y="1065.6" width="2.6" height="19.5" rx="1.3"/>
<rect x="786.9" y="1086.6" width="2.6" height="19.5" rx="1.3"/>
<rect x="786.9" y="1107.6" width="2.6" height="19.5" rx="1.3"/>
<rect x="786.9" y="1128.6" width="2.6" height="19.5" rx="1.3"/>
<rect x="791.0" y="1055.5" width="2.6" height="19.5" rx="1.3"/>
<rect x="791.0" y="1076.5" width="2.6" height="19.5" rx="1.3"/>
<rect x="791.0" y="1097.5" width="2.6" height="19.5" rx="1.3"/>
<rect x="791.0" y="1118.5" width="2.6" height="19.5" rx="1.3"/>
<rect x="795.1" y="1045.5" width="2.6" height="19.5" rx="1.3"/>
<rect x="795.1" y="1066.5" width="2.6" height="19.5" rx="1.3"/>
<rect x="795.1" y="1087.5" width="2.6" height="19.5" rx="1.3"/>
<rect x="795.1" y="1108.5" width="2.6" height="19.5" rx="1.3"/>
<rect x="795.1" y="1129.5" width="2.6" height="19.5" rx="1.3"/>
<rect x="799.2" y="1056.5" width="2.6" height="19.5" rx="1.3"/>
<rect x="799.2" y="1077.5" width="2.6" height="19.5" rx="1.3"/>
<rect x="799.2" y="1098.5" width="2.6" height="19.5" rx="1.3"/>
<rect x="799.2" y="1119.5" width="2.6" height="19.5" rx="1.3"/>
<rect x="803.2" y="1046.5" width="2.6" height="19.5" rx="1.3"/>
<rect x="803.2" y="1067.5" width="2.6" height="19.5" rx="1.3"/>
<rect x="803.2" y="1088.5" width="2.6" height="19.5" rx="1.3"/>
<rect x="803.2" y="1109.5" width="2.6" height="19.5" rx="1.3"/>
<rect x="803.2" y="1130.5" width="2.6" height="19.5" rx="1.3"/>
<rect x="807.3" y="1057.4" width="2.6" height="19.5" rx="1.3"/>
<rect x="807.3" y="1078.4" width="2.6" height="19.5" rx="1.3"/>
<rect x="807.3" y="1099.4" width="2.6" height="19.5" rx="1.3"/>
<rect x="807.3" y="1120.4" width="2.6" height="19.5" rx="1.3"/>
<rect x="811.4" y="1047.4" width="2.6" height="19.5" rx="1.3"/>
<rect x="811.4" y="1068.4" width="2.6" height="19.5" rx="1.3"/>
<rect x="811.4" y="1089.4" width="2.6" height="19.5" rx="1.3"/>
<rect x="811.4" y="1110.4" width="2.6" height="19.5" rx="1.3"/>
<rect x="811.4" y="1131.4" width="2.6" height="19.5" rx="1.3"/>
<rect x="815.5" y="1058.4" width="2.6" height="19.5" rx="1.3"/>
<rect x="815.5" y="1079.4" width="2.6" height="19.5" rx="1.3"/>
<rect x="815.5" y="1100.4" width="2.6" height="19.5" rx="1.3"/>
<rect x="815.5" y="1121.4" width="2.6" height="19.5" rx="1.3"/>
<rect x="819.6" y="1048.4" width="2.6" height="19.5" rx="1.3"/>
<rect x="819.6" y="1069.4" width="2.6" height="19.5" rx="1.3"/>
<rect x="819.6" y="1090.4" width="2.6" height="19.5" rx="1.3"/>
<rect x="819.6" y="1111.4" width="2.6" height="19.5" rx="1.3"/>
<rect x="819.6" y="1132.4" width="2.6" height="19.5" rx="1.3"/>
<rect x="823.6" y="1059.3" width="2.6" height="19.5" rx="1.3"/>
<rect x="823.6" y="1080.3" width="2.6" height="19.5" rx="1.3"/>
<rect x="823.6" y="1101.3" width="2.6" height="19.5" rx="1.3"/>
<rect x="823.6" y="1122.3" width="2.6" height="19.5" rx="1.3"/>
<rect x="827.7" y="1049.3" width="2.6" height="19.5" rx="1.3"/>
<rect x="827.7" y="1070.3" width="2.6" height="19.5" rx="1.3"/>
<rect x="827.7" y="1091.3" width="2.6" height="19.5" rx="1.3"/>
<rect x="827.7" y="1112.3" width="2.6" height="19.5" rx="1.3"/>
<rect x="827.7" y="1133.3" width="2.6" height="19.5" rx="1.3"/>
<rect x="831.8" y="1060.3" width="2.6" height="19.5" rx="1.3"/>
<rect x="831.8" y="1081.3" width="2.6" height="19.5" rx="1.3"/>
<rect x="831.8" y="1102.3" width="2.6" height="19.5" rx="1.3"/>
<rect x="831.8" y="1123.3" width="2.6" height="19.5" rx="1.3"/>
<rect x="835.9" y="1050.2" width="2.6" height="19.5" rx="1.3"/>
<rect x="835.9" y="1071.2" width="2.6" height="19.5" rx="1.3"/>
<rect x="835.9" y="1092.2" width="2.6" height="19.5" rx="1.3"/>
<rect x="835.9" y="1113.2" width="2.6" height="19.5" rx="1.3"/>
<rect x="835.9" y="1134.2" width="2.6" height="19.5" rx="1.3"/>
<rect x="840.0" y="1061.2" width="2.6" height="19.5" rx="1.3"/>
<rect x="840.0" y="1082.2" width="2.6" height="19.5" rx="1.3"/>
<rect x="840.0" y="1103.2" width="2.6" height="19.5" rx="1.3"/>
<rect x="840.0" y="1124.2" width="2.6" height="19.5" rx="1.3"/>
<rect x="844.0" y="1051.2" width="2.6" height="19.5" rx="1.3"/>
<rect x="844.0" y="1072.2" width="2.6" height="19.5" rx="1.3"/>
<rect x="844.0" y="1093.2" width="2.6" height="19.5" rx="1.3"/>
<rect x="844.0" y="1114.2" width="2.6" height="19.5" rx="1.3"/>
<rect x="844.0" y="1135.2" width="2.6" height="19.5" rx="1.3"/>
<rect x="848.1" y="1062.2" width="2.6" height="19.5" rx="1.3"/>
<rect x="848.1" y="1083.2" width="2.6" height="19.5" rx="1.3"/>
<rect x="848.1" y="1104.2" width="2.6" height="19.5" rx="1.3"/>
<rect x="848.1" y="1125.2" width="2.6" height="19.5" rx="1.3"/>
<rect x="852.2" y="1052.1" width="2.6" height="19.5" rx="1.3"/>
<rect x="852.2" y="1073.1" width="2.6" height="19.5" rx="1.3"/>
<rect x="852.2" y="1094.1" width="2.6" height="19.5" rx="1.3"/>
<rect x="852.2" y="1115.1" width="2.6" height="19.5" rx="1.3"/>
<rect x="852.2" y="1136.1" width="2.6" height="19.5" rx="1.3"/>
<rect x="856.3" y="1063.1" width="2.6" height="19.5" rx="1.3"/>
<rect x="856.3" y="1084.1" width="2.6" height="19.5" rx="1.3"/>
<rect x="856.3" y="1105.1" width="2.6" height="19.5" rx="1.3"/>
<rect x="856.3" y="1126.1" width="2.6" height="19.5" rx="1.3"/>
</g>
<circle cx="851.6" cy="1171" r="6.5" stroke="none" stroke-width="0" fill="#6e6e6e"/>
<circle cx="851" cy="1430" r="6.5" stroke="none" stroke-width="0" fill="#6e6e6e"/>
<path d="M661.5,1352.5 Q661.4,1349.0 664.8,1349.7 L726.1,1362.9 Q729.5,1363.6 729.6,1367.1 L731.4,1431.9 Q731.5,1435.4 728.1,1434.6 L666.8,1420.3 Q663.4,1419.5 663.3,1416.0 Z" stroke="#646464" stroke-width="1.8" fill="#fff" stroke-linejoin="round" stroke-linecap="round" />
<line x1="665.5" y1="1354.3" x2="724.2" y2="1366.9" stroke="#5c5c5c" stroke-width="1.9" />
<line x1="665.6" y1="1358.3" x2="724.2" y2="1371" stroke="#5c5c5c" stroke-width="1.9" />
<line x1="665.7" y1="1362.4" x2="724.3" y2="1375.1" stroke="#5c5c5c" stroke-width="1.9" />
<line x1="665.8" y1="1366.4" x2="724.4" y2="1379.1" stroke="#5c5c5c" stroke-width="1.9" />
<line x1="665.9" y1="1370.5" x2="724.4" y2="1383.2" stroke="#5c5c5c" stroke-width="1.9" />
<line x1="666" y1="1374.5" x2="724.5" y2="1387.3" stroke="#5c5c5c" stroke-width="1.9" />
<line x1="666.1" y1="1378.6" x2="724.5" y2="1391.3" stroke="#5c5c5c" stroke-width="1.9" />
<line x1="666.2" y1="1382.6" x2="724.6" y2="1395.4" stroke="#5c5c5c" stroke-width="1.9" />
<line x1="666.2" y1="1386.7" x2="724.6" y2="1399.5" stroke="#5c5c5c" stroke-width="1.9" />
<line x1="666.3" y1="1390.7" x2="724.6" y2="1403.6" stroke="#5c5c5c" stroke-width="1.9" />
<line x1="666.4" y1="1394.7" x2="724.7" y2="1407.7" stroke="#5c5c5c" stroke-width="1.9" />
<line x1="666.5" y1="1398.8" x2="724.8" y2="1411.7" stroke="#5c5c5c" stroke-width="1.9" />
<line x1="666.6" y1="1402.8" x2="724.8" y2="1415.8" stroke="#5c5c5c" stroke-width="1.9" />
<line x1="666.7" y1="1406.9" x2="724.9" y2="1419.9" stroke="#5c5c5c" stroke-width="1.9" />
<line x1="666.8" y1="1410.9" x2="724.9" y2="1423.9" stroke="#5c5c5c" stroke-width="1.9" />
<line x1="666.9" y1="1415" x2="725" y2="1428" stroke="#5c5c5c" stroke-width="1.9" />
<line x1="667" y1="1419" x2="725" y2="1432.1" stroke="#5c5c5c" stroke-width="1.9" />
<line x1="724.7" y1="1363.9" x2="725.5" y2="1433.1" stroke="#646464" stroke-width="1.3" />
<line x1="665" y1="1352.3" x2="666.5" y2="1420" stroke="#888" stroke-width="1.6" />
<path d="M757.8,1374.8 Q757.7,1371.3 761.1,1372.0 L826.3,1385.6 Q829.7,1386.3 829.8,1389.8 L830.9,1457.0 Q831.0,1460.5 827.6,1459.7 L763.8,1445.5 Q760.4,1444.7 760.3,1441.2 Z" stroke="#646464" stroke-width="1.8" fill="#fff" stroke-linejoin="round" stroke-linecap="round" />
<line x1="761.3" y1="1375.9" x2="823.8" y2="1390.3" stroke="#5c5c5c" stroke-width="1.9" />
<line x1="761.4" y1="1380.1" x2="823.9" y2="1394.5" stroke="#5c5c5c" stroke-width="1.9" />
<line x1="761.4" y1="1384.3" x2="823.9" y2="1398.7" stroke="#5c5c5c" stroke-width="1.9" />
<line x1="761.5" y1="1388.5" x2="824" y2="1402.9" stroke="#5c5c5c" stroke-width="1.9" />
<line x1="761.6" y1="1392.7" x2="824" y2="1407.1" stroke="#5c5c5c" stroke-width="1.9" />
<line x1="761.7" y1="1396.8" x2="824.1" y2="1411.3" stroke="#5c5c5c" stroke-width="1.9" />
<line x1="761.8" y1="1401" x2="824.1" y2="1415.5" stroke="#5c5c5c" stroke-width="1.9" />
<line x1="761.8" y1="1405.2" x2="824.2" y2="1419.7" stroke="#5c5c5c" stroke-width="1.9" />
<line x1="761.9" y1="1409.4" x2="824.2" y2="1423.8" stroke="#5c5c5c" stroke-width="1.9" />
<line x1="762" y1="1413.6" x2="824.3" y2="1428" stroke="#5c5c5c" stroke-width="1.9" />
<line x1="762" y1="1417.8" x2="824.4" y2="1432.2" stroke="#5c5c5c" stroke-width="1.9" />
<line x1="762.1" y1="1422" x2="824.4" y2="1436.4" stroke="#5c5c5c" stroke-width="1.9" />
<line x1="762.2" y1="1426.2" x2="824.5" y2="1440.6" stroke="#5c5c5c" stroke-width="1.9" />
<line x1="762.3" y1="1430.3" x2="824.5" y2="1444.8" stroke="#5c5c5c" stroke-width="1.9" />
<line x1="762.4" y1="1434.5" x2="824.6" y2="1449" stroke="#5c5c5c" stroke-width="1.9" />
<line x1="762.4" y1="1438.7" x2="824.6" y2="1453.2" stroke="#5c5c5c" stroke-width="1.9" />
<line x1="762.5" y1="1442.9" x2="824.7" y2="1457.4" stroke="#5c5c5c" stroke-width="1.9" />
<line x1="824.3" y1="1387.3" x2="825.2" y2="1458.4" stroke="#646464" stroke-width="1.3" />
<line x1="760.8" y1="1373.9" x2="762" y2="1443.9" stroke="#888" stroke-width="1.6" />
<polygon points="889,1382.2 915,1360.3 912.5,1494 888,1518.5" stroke="#646464" stroke-width="1.5" fill="#fff" stroke-linejoin="round" />
<ellipse cx="902.3" cy="1396.8" rx="6" ry="13" stroke="#646464" stroke-width="1.3" fill="none" transform="rotate(8 902.3 1396.8)"/>
<ellipse cx="902.3" cy="1433.3" rx="6" ry="13" stroke="#646464" stroke-width="1.3" fill="none" transform="rotate(8 902.3 1433.3)"/>
<ellipse cx="902.3" cy="1471.8" rx="6" ry="13" stroke="#646464" stroke-width="1.3" fill="none" transform="rotate(8 902.3 1471.8)"/>
<polygon points="922.9,1116 930.2,1108.8 924.9,1373.4 917.6,1376.3" stroke="#646464" stroke-width="1.3" fill="#fff" stroke-linejoin="round" />
<ellipse cx="926.7" cy="1146.8" rx="2.4" ry="20" stroke="#888" stroke-width="1" fill="none" />
<ellipse cx="921.4" cy="1339.8" rx="2.4" ry="22" stroke="#888" stroke-width="1" fill="none" />
<line x1="922.4" y1="1119" x2="922.4" y2="1140" stroke="#888" stroke-width="1" />
<ellipse cx="881.8" cy="1543.4" rx="5" ry="3" stroke="#777" stroke-width="1.1" fill="#fff" />
<ellipse cx="908.4" cy="1513.4" rx="5" ry="3" stroke="#777" stroke-width="1.1" fill="#fff" />
<line x1="588" y1="986.7" x2="670" y2="986.7" stroke="#6e6e6e" stroke-width="1" />
<line x1="613" y1="1088.4" x2="726" y2="1088.4" stroke="#6e6e6e" stroke-width="1" />
<line x1="613" y1="1402.3" x2="708" y2="1402.3" stroke="#6e6e6e" stroke-width="1" />
<line x1="741.6" y1="931.4" x2="767.5" y2="931.4" stroke="#6e6e6e" stroke-width="1" />
<line x1="900" y1="1052.3" x2="980.5" y2="1052.3" stroke="#6e6e6e" stroke-width="1" />
<line x1="925" y1="1207.2" x2="980.5" y2="1207.2" stroke="#6e6e6e" stroke-width="1" />
<line x1="821.7" y1="1302" x2="980.5" y2="1302" stroke="#6e6e6e" stroke-width="1" />
<line x1="903.3" y1="1483" x2="980.5" y2="1483" stroke="#6e6e6e" stroke-width="1" />
<circle cx="670" cy="986.7" r="1.3" fill="#555"/>
<circle cx="726" cy="1088.4" r="1.3" fill="#555"/>
<circle cx="708" cy="1402.3" r="1.3" fill="#555"/>
<circle cx="900" cy="1052.3" r="1.3" fill="#555"/>
<circle cx="925" cy="1207.2" r="1.3" fill="#555"/>
<circle cx="821.7" cy="1302" r="1.3" fill="#555"/>
<circle cx="903.3" cy="1483" r="1.3" fill="#555"/>
<circle cx="581.6" cy="986.7" r="4.7" stroke="#1f5f8b" stroke-width="2" fill="#fff"/>
<circle cx="607" cy="1088.4" r="4.7" stroke="#1f5f8b" stroke-width="2" fill="#fff"/>
<circle cx="607" cy="1402.3" r="4.7" stroke="#1f5f8b" stroke-width="2" fill="#fff"/>
<circle cx="773.3" cy="931.4" r="4.7" stroke="#1f5f8b" stroke-width="2" fill="#fff"/>
<circle cx="986.5" cy="1052.3" r="4.7" stroke="#1f5f8b" stroke-width="2" fill="#fff"/>
<circle cx="986.5" cy="1207.2" r="4.7" stroke="#1f5f8b" stroke-width="2" fill="#fff"/>
<circle cx="986.5" cy="1302" r="4.7" stroke="#1f5f8b" stroke-width="2" fill="#fff"/>
<circle cx="986.5" cy="1483" r="4.7" stroke="#1f5f8b" stroke-width="2" fill="#fff"/>
<text x="765.2" y="891.8" class="lb" text-anchor="start">переходник к внешнему</text>
<text x="765.2" y="913.6" class="lb" text-anchor="start">кабельному лотку</text>
<text x="625" y="943.9" class="lb" text-anchor="end">пульт</text>
<text x="625" y="964.6" class="lb" text-anchor="end">управления</text>
<text x="976.5" y="1038.3" class="lb" text-anchor="start">корпус</text>
<text x="625" y="1051" class="lb" text-anchor="end">вентиляционная</text>
<text x="625" y="1072.5" class="lb" text-anchor="end">решетка</text>
<text x="976.6" y="1148.1" class="lb" text-anchor="start">кронштейн</text>
<text x="976.6" y="1169.5" class="lb" text-anchor="start">крепления</text>
<text x="976.6" y="1190.8" class="lb" text-anchor="start">к стене</text>
<text x="976.6" y="1284.5" class="lb" text-anchor="start">дверь</text>
<text x="625" y="1365.7" class="lb" text-anchor="end">вентилятор</text>
<text x="625" y="1387" class="lb" text-anchor="end">охлаждения</text>
<text x="976.8" y="1447.1" class="lb" text-anchor="start">крышка ввода</text>
<text x="976.8" y="1468.8" class="lb" text-anchor="start">кабеля питания</text>
</svg></body></html>
